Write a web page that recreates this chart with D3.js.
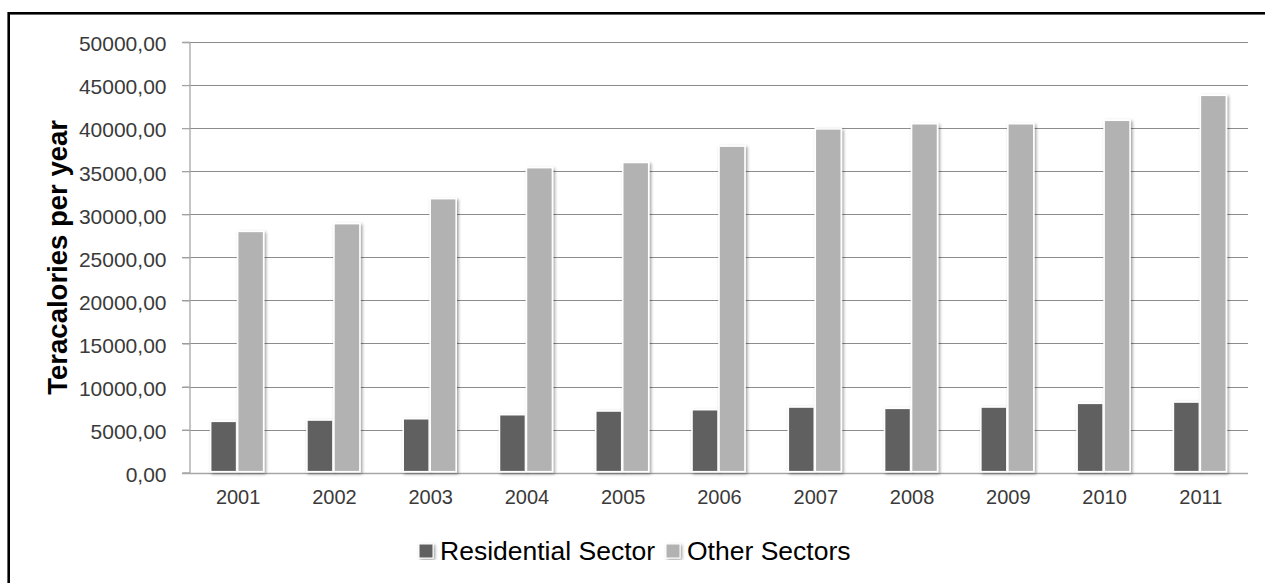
<!DOCTYPE html>
<html>
<head>
<meta charset="utf-8">
<script src="https://cdn.jsdelivr.net/npm/d3@7"></script>
<style>
  html, body { margin: 0; padding: 0; background: #fff; }
  svg { display: block; }
</style>
</head>
<body>
<svg id="chart" width="1265" height="583"></svg>
<script>
// Energy consumption by sector, teracalories per year
const years = ["2001", "2002", "2003", "2004", "2005", "2006", "2007", "2008", "2009", "2010", "2011"];
const residential = [5850, 6000, 6150, 6620, 7050, 7200, 7510, 7360, 7510, 7940, 8090];
const otherSectors = [27900, 28800, 31700, 35300, 35900, 37800, 39800, 40400, 40400, 40800, 43700];
const seriesNames = ["Residential Sector", "Other Sectors"];
const seriesColors = ["#616161", "#b2b2b2"];
const yTicks = [0, 5000, 10000, 15000, 20000, 25000, 30000, 35000, 40000, 45000, 50000];
const yTitle = "Teracalories per year";

const svg = d3.select("#chart");
const font = "'Liberation Sans', Arial, sans-serif";

// outer frame
svg.append("rect")
  .attr("x", 8.7).attr("y", 13.3)
  .attr("width", 1300).attr("height", 620)
  .attr("fill", "none").attr("stroke", "#000").attr("stroke-width", 2.6);

// soft shadow for bars and legend keys
const defs = svg.append("defs");
const f = defs.append("filter").attr("id", "shadow")
  .attr("x", "-30%").attr("y", "-10%").attr("width", "160%").attr("height", "120%");
f.append("feDropShadow")
  .attr("dx", 1.5).attr("dy", 1.5).attr("stdDeviation", 1.8)
  .attr("flood-color", "#000").attr("flood-opacity", 0.4);

const plot = { left: 189, right: 1248, top: 42, bottom: 472.7 };

const x = d3.scaleBand().domain(years).range([plot.left, plot.right]).padding(0);
const y = d3.scaleLinear().domain([0, 50000]).range([plot.bottom, plot.top]);
const groupWidth = 54;
const xs = d3.scaleBand().domain(seriesNames).range([-groupWidth / 2, groupWidth / 2]).padding(0);

const locale = d3.formatLocale({ decimal: ",", thousands: "", grouping: [3], currency: ["", ""] });
const fmt = locale.format(".2f");

// gridlines
svg.append("g").selectAll("line")
  .data(yTicks.filter(t => t > 0))
  .join("line")
  .attr("x1", plot.left - 7).attr("x2", plot.right)
  .attr("y1", d => Math.round(y(d)) + 0.5).attr("y2", d => Math.round(y(d)) + 0.5)
  .attr("stroke", "#8c8c8c").attr("stroke-width", 1.2);

// y axis
const yAxis = svg.append("g")
  .attr("transform", `translate(${plot.left + 0.5},0)`)
  .call(d3.axisLeft(y).tickValues(yTicks).tickFormat(fmt).tickSize(7).tickPadding(16));
yAxis.select(".domain").attr("stroke", "#a6a6a6").attr("stroke-width", 1.3);
yAxis.selectAll(".tick line").attr("stroke", "#a6a6a6").attr("stroke-width", 1.3);
yAxis.selectAll(".tick text")
  .attr("font-family", font).attr("font-size", 21).attr("fill", "#3a3a3a")
  .attr("dy", "0.42em");

// x axis baseline
svg.append("line")
  .attr("x1", plot.left - 7).attr("x2", plot.right)
  .attr("y1", Math.round(y(0)) + 0.5).attr("y2", Math.round(y(0)) + 0.5)
  .attr("stroke", "#a6a6a6").attr("stroke-width", 1.3);

// x labels
svg.append("g").selectAll("text")
  .data(years)
  .join("text")
  .attr("x", d => x(d) + x.bandwidth() / 2 + 1)
  .attr("y", 504)
  .attr("text-anchor", "middle")
  .attr("font-family", font).attr("font-size", 20).attr("fill", "#3a3a3a")
  .text(d => d);

// bars
const rows = years.map((yr, i) => ({ year: yr, values: [residential[i], otherSectors[i]] }));
const groups = svg.append("g").selectAll("g")
  .data(rows)
  .join("g")
  .attr("transform", d => `translate(${x(d.year) + x.bandwidth() / 2},0)`);
groups.selectAll("rect")
  .data(d => d.values.map((v, k) => ({ name: seriesNames[k], value: v, k })))
  .join("rect")
  .attr("x", d => xs(d.name) + 0.5)
  .attr("width", xs.bandwidth() - 1)
  .attr("y", d => y(d.value) - 1)
  .attr("height", d => y(0) - y(d.value))
  .attr("fill", d => seriesColors[d.k])
  .attr("stroke", "#fff").attr("stroke-width", 1.6)
  .attr("filter", "url(#shadow)");

// y title
svg.append("text")
  .attr("transform", `translate(67,${(plot.top + plot.bottom) / 2}) rotate(-90)`)
  .attr("text-anchor", "middle")
  .attr("font-family", font).attr("font-size", 27.5).attr("font-weight", "bold").attr("fill", "#000")
  .text(yTitle);

// legend
const legendItems = [
  { name: seriesNames[0], color: seriesColors[0], x: 419 },
  { name: seriesNames[1], color: seriesColors[1], x: 666 }
];
const lg = svg.append("g").selectAll("g").data(legendItems).join("g")
  .attr("transform", d => `translate(${d.x},544)`);
lg.append("rect")
  .attr("width", 14).attr("height", 14)
  .attr("fill", d => d.color).attr("stroke", "#fff").attr("stroke-width", 1)
  .attr("filter", "url(#shadow)");
lg.append("text")
  .attr("x", 21).attr("y", 16)
  .attr("font-family", font).attr("font-size", 26.5).attr("fill", "#000")
  .text(d => d.name);
</script>
</body>
</html>
